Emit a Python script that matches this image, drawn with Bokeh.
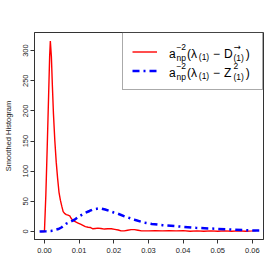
from bokeh.plotting import figure
from bokeh.models import (FixedTicker, PrintfTickFormatter, Legend, LegendItem,
                          Label)
from bokeh.embed import file_html
from bokeh.resources import INLINE

# ---- data ----
red_x = [-0.0010, -0.0002, 0.0000, 0.0004, 0.0008, 0.0012, 0.0015, 0.0017,
         0.0020, 0.0023, 0.0026, 0.0030, 0.0034, 0.0038, 0.0042, 0.0046,
         0.0050, 0.0054, 0.0058, 0.0063, 0.0068, 0.0073, 0.0078, 0.0083,
         0.0090, 0.0097, 0.0104, 0.0111, 0.0118, 0.0126, 0.0133, 0.0140,
         0.0147, 0.0154, 0.0163, 0.0173, 0.0183, 0.0193, 0.0203, 0.0213,
         0.0221, 0.0230, 0.0240, 0.0250, 0.0260, 0.0270, 0.0280, 0.0290,
         0.0300, 0.0320, 0.0340, 0.0360, 0.0380, 0.0400, 0.0420, 0.0440,
         0.0460, 0.0480, 0.0500, 0.0520, 0.0540, 0.0560, 0.0580, 0.0600,
         0.0610]
red_y = [0, 0, 0, 60, 140, 225, 290, 316,
         290, 240, 195, 150, 115, 88, 65, 52,
         42, 33, 30, 28, 27, 26, 21, 18,
         16, 14, 12, 10, 8, 7, 6.5, 4.5,
         5, 5.5, 5, 4, 4.5, 4.5, 3.5, 2.5,
         1, 1, 2, 3, 3, 2, 1, 1,
         1, 1.5, 1, 1.5, 1, 1.5, 0.5, 1,
         0.5, 1, 0.5, 1, 0.5, 1, 0.5, 1,
         1.5]

blue_x = [-0.0014, 0.0005, 0.0020, 0.0040, 0.0050, 0.0063, 0.0075, 0.0087,
          0.0100, 0.0116, 0.0130, 0.0140, 0.0155, 0.0164, 0.0175, 0.0188,
          0.0200, 0.0212, 0.0231, 0.0260, 0.0288, 0.0310, 0.0341, 0.0389,
          0.0437, 0.0494, 0.0547, 0.0600, 0.0632]
blue_y = [0, 0.5, 1, 4, 7, 13, 16, 19.5,
          25, 30.5, 34, 36.7, 38, 38, 36.5, 34,
          31.5, 29.5, 25, 19.5, 14.5, 12.5, 10.5, 8.3,
          6, 4.5, 3, 1.7, 1.7]

x_ticks = [0.00, 0.01, 0.02, 0.03, 0.04, 0.05, 0.06]
y_ticks = [0, 50, 100, 150, 200, 250, 300]
y_title = "Smoothed Histogram"

FONT = "Liberation Sans"

p = figure(width=272, height=272, output_backend="svg", toolbar_location=None,
           x_range=(-0.00287, 0.0632), y_range=(-13.3, 330),
           min_border_left=33, min_border_right=9, min_border_top=32,
           min_border_bottom=33)
p.background_fill_color = "white"
p.border_fill_color = "white"
p.grid.visible = False
p.outline_line_color = "#333333"
p.outline_line_width = 1

for ax in (p.xaxis[0], p.yaxis[0]):
    ax.axis_line_color = "#333333"
    ax.major_tick_line_color = "#333333"
    ax.minor_tick_line_color = None
    ax.major_tick_out = 4
    ax.major_tick_in = 0
    ax.major_label_text_font = FONT
    ax.major_label_text_font_size = "7.5px"
    ax.major_label_text_color = "#222222"

p.xaxis.ticker = FixedTicker(ticks=x_ticks)
p.xaxis.formatter = PrintfTickFormatter(format="%.2f")
p.xaxis.major_label_standoff = 4

p.yaxis.ticker = FixedTicker(ticks=y_ticks)
p.yaxis.major_label_orientation = "vertical"
p.yaxis.major_label_standoff = 2
p.yaxis.axis_label = y_title
p.yaxis.axis_label_text_font = FONT
p.yaxis.axis_label_text_font_style = "normal"
p.yaxis.axis_label_text_font_size = "7.5px"
p.yaxis.axis_label_text_color = "#222222"
p.yaxis.axis_label_standoff = 8

r_red = p.line(red_x, red_y, line_color="#ff0000", line_width=1.4)
r_blue = p.line(blue_x, blue_y, line_color="#0000ff", line_width=2.5,
                line_dash="7 4 2 4")

legend = Legend(items=[LegendItem(label=" ", renderers=[r_red]),
                       LegendItem(label=" ", renderers=[r_blue])],
                location="top_right", margin=0, padding=9, spacing=0,
                glyph_width=25, glyph_height=19, label_height=19,
                label_width=91, label_standoff=5,
                border_line_color="#555555", border_line_width=1,
                background_fill_alpha=0.0,
                label_text_font_size="8px")
p.add_layout(legend, "center")

FX, FB = 33, 239  # frame left / bottom in page pixels


def piece(text, px, py, size, font=FONT):
    p.add_layout(Label(x=px - FX, y=FB - py, x_units="screen", y_units="screen",
                       text=text, text_font=font, text_font_size=size,
                       text_color="black", text_baseline="alphabetic",
                       text_align="left"))


for base, sym, sup, supfont in ((53, "D", "\u2192", "DejaVu Sans"),
                                (72, "Z", "2", FONT)):
    piece("a", 167.5, base, "12px")
    piece("\u22122", 174.9, base - 7, "8.5px")
    piece("np", 174.9, base + 4, "8.5px")
    piece("(\u03bb", 185.6, base, "12px")
    piece("(1)", 197.3, base + 3.5, "8.5px")
    piece("\u2212", 211.5, base, "12px")
    piece(sym, 222.5, base, "12px")
    piece(sup, 232.0, base - 7, "8.5px", supfont)
    piece("(1)", 232.0, base + 4, "8.5px")
    piece(")", 244.2, base, "12px")

open("out.html", "w").write(file_html(p, INLINE))
